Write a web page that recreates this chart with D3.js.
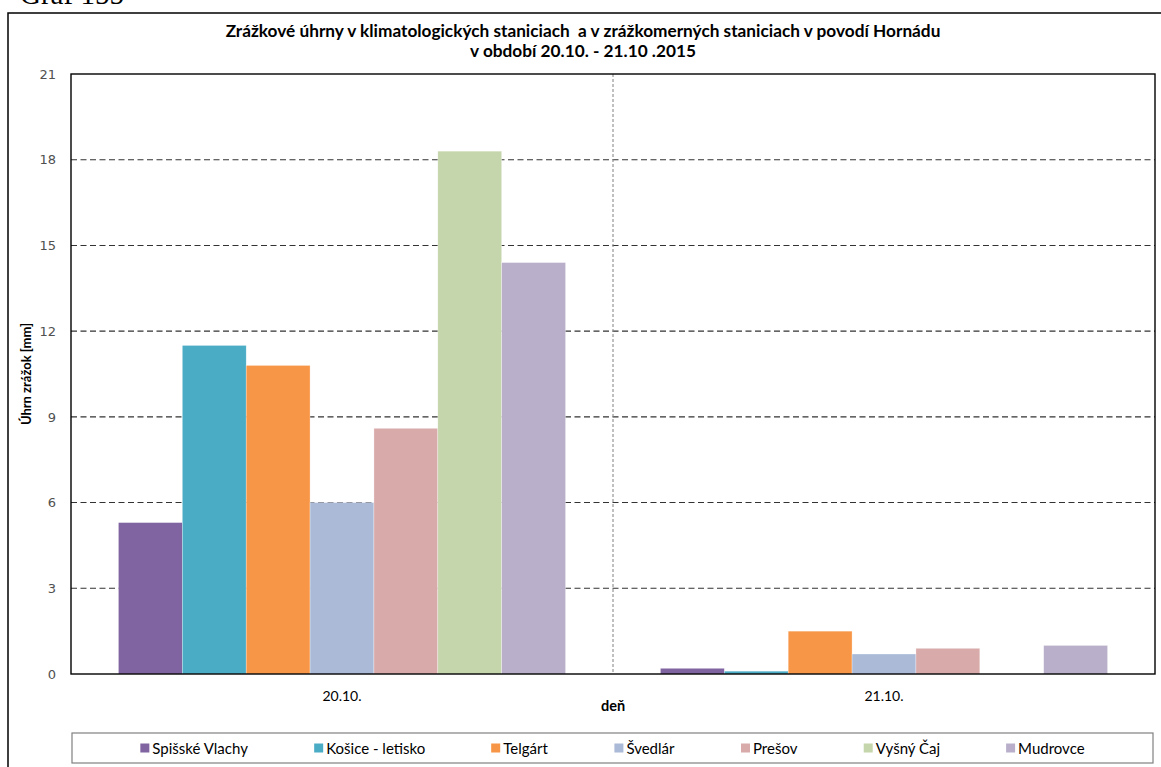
<!DOCTYPE html>
<html><head><meta charset="utf-8">
<script src="https://cdn.jsdelivr.net/npm/d3@7"></script>
<style>
html,body{margin:0;padding:0;background:#fff;overflow:hidden;}
svg{display:block;}
</style></head>
<body>
<svg id="chart" width="1161" height="767"></svg>
<script>
// ---- data ----
const days = ["20.10.", "21.10."];
const stations = ["Spišské Vlachy", "Košice - letisko", "Telgárt", "Švedlár", "Prešov", "Vyšný Čaj", "Mudrovce"];
const values2010 = [5.3, 11.5, 10.8, 6.0, 8.6, 18.3, 14.4];
const values2110 = [0.2, 0.1, 1.5, 0.7, 0.9, 0, 1.0];
const yTicks = [0, 3, 6, 9, 12, 15, 18, 21];
const colors = ["#8064A2", "#4BACC6", "#F79646", "#AABAD7", "#D9AAAA", "#C6D6AC", "#B9AFCA"];
const titleLines = ["Zrážkové úhrny v klimatologických staniciach  a v zrážkomerných staniciach v povodí Hornádu", "v období 20.10. - 21.10 .2015"];
const yTitle = "Úhrn zrážok [mm]";
const xTitle = "deň";

const dayValues = [values2010, values2110];
const rows = days.map((d, i) => ({day: d, vals: stations.map((s, j) => ({station: s, idx: j, v: dayValues[i][j]}))}));

const svg = d3.select("#chart");
const plot = {l: 71, t: 74, r: 1155, b: 674};
const sans = "Lato, 'Open Sans', sans-serif";

// "Graf 155" caption partially outside
svg.append("text").attr("x", 20).attr("y", 4).attr("font-family", "'Liberation Serif', 'Times New Roman', serif")
  .attr("font-size", 29).attr("fill", "#000").text("Graf 155");

// outer frame
svg.append("rect").attr("x", 8).attr("y", 13).attr("width", 1160).attr("height", 770)
  .attr("fill", "none").attr("stroke", "#000").attr("stroke-width", 1.5);

// title (font size fitted so the first line spans like the reference)
const tt = svg.append("text").attr("text-anchor", "middle").attr("font-family", sans)
  .attr("font-weight", "bold").attr("font-size", 13).attr("fill", "#000").style("white-space", "pre");
const tspans = titleLines.map((t, i) => tt.append("tspan").attr("x", 583).attr("y", 37 + i * 20).text(t));
const w0 = tspans[0].node().getComputedTextLength();
tt.attr("font-size", 13 * 715 / w0);

const x0 = d3.scaleBand().domain(days).range([plot.l, plot.r]).paddingInner(0).paddingOuter(0);
const gap = x0.bandwidth() * 0.175;
const x1 = d3.scaleBand().domain(d3.range(stations.length)).range([gap / 2, x0.bandwidth() - gap / 2]).padding(0);
const y = d3.scaleLinear().domain([0, 21]).range([plot.b, plot.t]);

// gridlines
svg.append("g").selectAll("line").data(yTicks.filter(d => d > 0 && d < 21)).join("line")
  .attr("x1", plot.l).attr("x2", plot.r).attr("y1", d => y(d)).attr("y2", d => y(d))
  .attr("stroke", "#333").attr("stroke-width", 1.1).attr("stroke-dasharray", "6,3.5");

// category separator
svg.append("g").selectAll("line").data(days.slice(1)).join("line")
  .attr("x1", d => x0(d)).attr("x2", d => x0(d)).attr("y1", plot.t).attr("y2", plot.b)
  .attr("stroke", "#808080").attr("stroke-width", 1).attr("stroke-dasharray", "3,2");

// bars
const groups = svg.append("g").selectAll("g").data(rows).join("g")
  .attr("transform", d => `translate(${x0(d.day)},0)`);
groups.selectAll("rect").data(d => d.vals).join("rect")
  .attr("x", d => x1(d.idx)).attr("width", x1.bandwidth())
  .attr("y", d => y(d.v)).attr("height", d => y(0) - y(d.v))
  .attr("fill", d => colors[d.idx]).attr("stroke", "#fff").attr("stroke-width", 0.5).attr("stroke-opacity", 0.6);

// plot frame
svg.append("rect").attr("x", plot.l).attr("y", plot.t).attr("width", plot.r - plot.l).attr("height", plot.b - plot.t)
  .attr("fill", "none").attr("stroke", "#000").attr("stroke-width", 1.4);

// y axis tick labels
const yAxis = d3.axisLeft(y).tickValues(yTicks).tickSize(0).tickPadding(15);
const ya = svg.append("g").attr("transform", `translate(${plot.l},0)`).call(yAxis);
ya.select(".domain").remove();
ya.selectAll("text").attr("font-family", "'DejaVu Sans', Verdana, sans-serif").attr("font-size", 13).attr("fill", "#505050");

// x axis labels
const xAxis = d3.axisBottom(x0).tickSize(0).tickPadding(17);
const xa = svg.append("g").attr("transform", `translate(0,${plot.b})`).call(xAxis);
xa.select(".domain").remove();
xa.selectAll("text").attr("font-family", sans).attr("font-size", 14).attr("fill", "#000");

// axis titles
svg.append("text").attr("transform", `translate(31,${(plot.t + plot.b) / 2}) rotate(-90)`)
  .attr("text-anchor", "middle").attr("font-family", sans).attr("font-weight", "bold").attr("font-size", 13).text(yTitle);
svg.append("text").attr("x", 613).attr("y", 711).attr("text-anchor", "middle").attr("font-family", sans)
  .attr("font-weight", "bold").attr("font-size", 14.5).text(xTitle);

// legend
const lg = {x: 72, y: 733, w: 1081, h: 30};
svg.append("rect").attr("x", lg.x).attr("y", lg.y).attr("width", lg.w).attr("height", lg.h)
  .attr("fill", "#fff").attr("stroke", "#808080").attr("stroke-width", 1.2);
const items = svg.append("g").selectAll("g").data(stations).join("g");
items.append("rect").attr("width", 9).attr("height", 9).attr("y", lg.y + lg.h / 2 - 4.5).attr("fill", (d, i) => colors[i]);
items.append("text").attr("x", 12).attr("y", lg.y + lg.h / 2 + 5.5).attr("font-family", sans).attr("font-size", 15)
  .attr("fill", "#000").text(d => d);
const widths = [];
items.each(function () { widths.push(this.getBBox().width); });
const itemGap = 66;
const total = d3.sum(widths) + itemGap * (widths.length - 1);
let cx = lg.x + (lg.w - total) / 2;
items.attr("transform", (d, i) => { const t = `translate(${cx},0)`; cx += widths[i] + itemGap; return t; });
</script>
</body></html>
